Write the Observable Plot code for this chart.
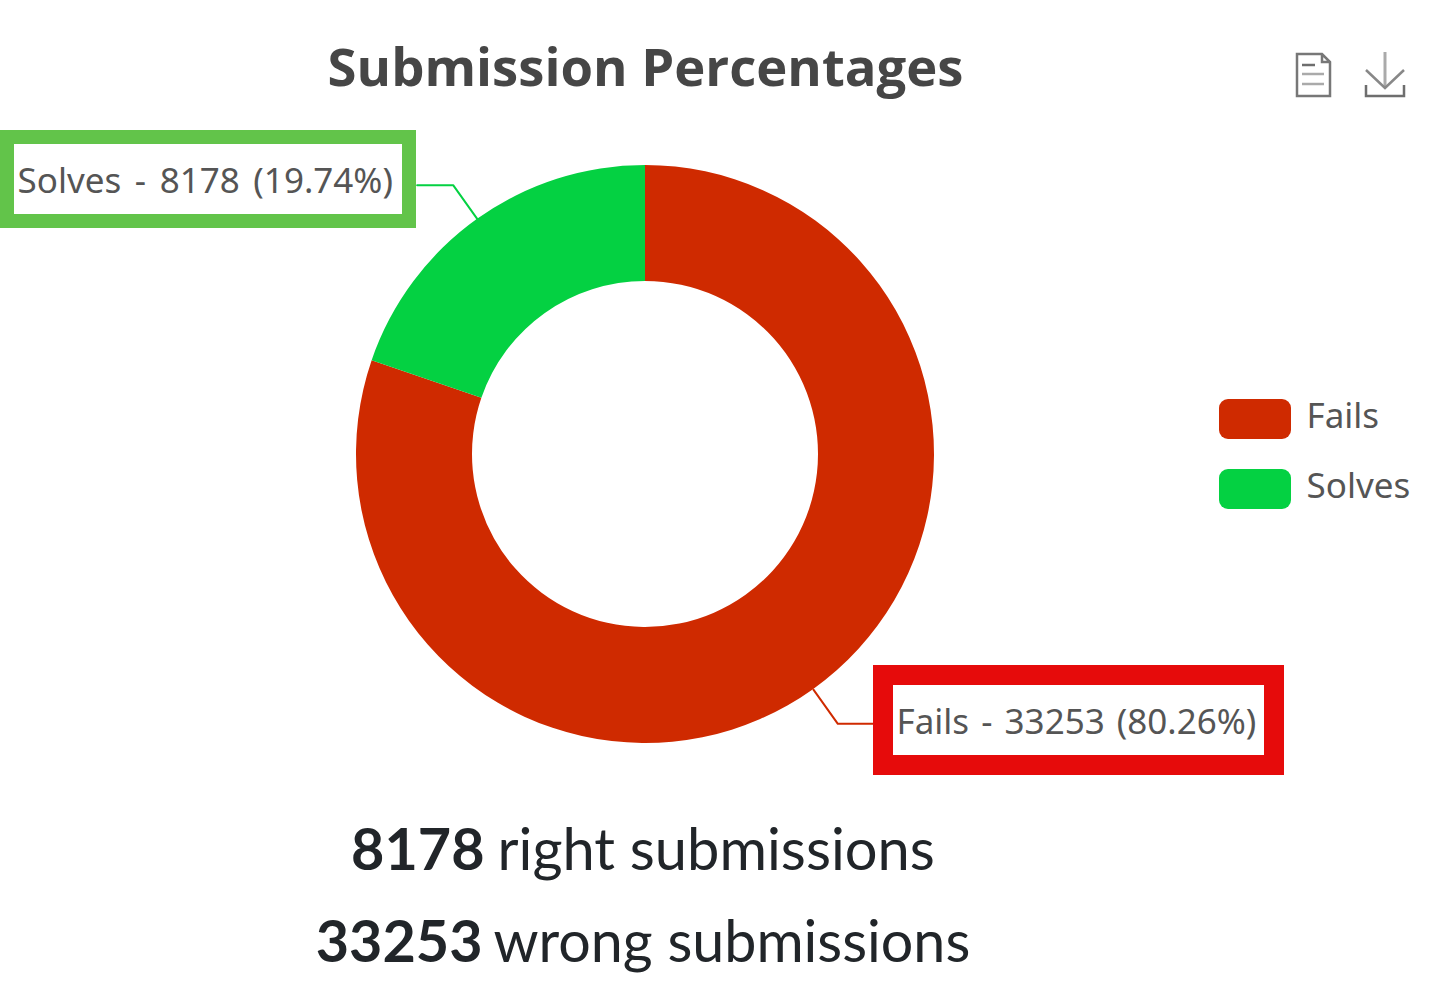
<!DOCTYPE html>
<html>
<head>
<meta charset="utf-8">
<script src="https://cdn.jsdelivr.net/npm/d3@7"></script>
<script src="https://cdn.jsdelivr.net/npm/@observablehq/plot@0.6"></script>
<style>
html,body{margin:0;padding:0;background:#fff}
svg{display:block}
</style>
</head>
<body>
<div id="chart"></div>
<script>
const categories = ["Fails", "Solves"];
const submissions = [33253, 8178];
const sliceColors = ["#cf2a00", "#04d142"];
const boxColors = ["#e60b0b", "#62c44a"];
const summaryWords = ["wrong submissions", "right submissions"];
const chartTitle = "Submission Percentages";

const total = d3.sum(submissions);
const cx = 645, cy = 454, rOuter = 289, rInner = 173, leaderLen = 42;
const W = 1440, H = 995;

const pie = d3.pie().sort(null)(submissions);
const arc = d3.arc().innerRadius(rInner).outerRadius(rOuter);

const rows = categories.map((name, i) => {
  const mid = (pie[i].startAngle + pie[i].endAngle) / 2;
  const px = r => cx + r * Math.sin(mid), py = r => cy - r * Math.cos(mid);
  const right = Math.sin(mid) > 0;
  const ex = px(rOuter + leaderLen), ey = py(rOuter + leaderLen);
  return {
    name, value: submissions[i], arcDatum: pie[i], right,
    pct: (submissions[i] / total * 100).toFixed(2),
    leader: [[px(rOuter), py(rOuter)], [ex, ey], [ex + (right ? 37 : -36), ey]]
  };
});

// label box layout, one entry per category
const boxes = [
  {x1: 873, x2: 1284, y1: 665, y2: 775, border: 20, tx: 896, ty: 722, size: 35, spacing: 3},
  {x1: 0, x2: 416, y1: 130, y2: 228, border: 14, tx: 17, ty: 181, size: 35, spacing: 4.5}
].map((b, i) => ({...b, ...rows[i], stroke: boxColors[i]}));

const legendRows = rows.map((r, i) => ({...r, y1: 399 + i * 70, y2: 439 + i * 70, ty: 416 + i * 70}));
const summaryRows = [
  {n: rows[1].value, word: summaryWords[1], split: 484, gap: 497, y: 851, size: 57.8},
  {n: rows[0].value, word: summaryWords[0], split: 482, gap: 493, y: 943, size: 57.4}
];

const donut = (index, {x, y, color}) => {
  const g = d3.create("svg:g").attr("transform", `translate(${x(cx)},${y(cy)})`);
  g.selectAll("path").data(rows).join("path")
    .attr("d", d => arc(d.arcDatum))
    .attr("fill", d => color(d.name));
  return g.node();
};

const icons = () => {
  const g = d3.create("svg:g").attr("fill", "none").attr("stroke", "#6e6e6e")
    .attr("stroke-width", 2.5).attr("stroke-linejoin", "miter");
  g.append("path").attr("stroke", "#777").attr("d", "M1297 54H1322L1330 62V96H1297Z M1322 54V62H1330");
  g.append("path").attr("stroke", "#aaa").attr("d", "M1302 74H1324 M1302 84H1324");
  g.append("path").attr("d", "M1302 65H1315");
  g.append("path").attr("stroke", "#aaa").attr("stroke-width", 3).attr("d", "M1385 52V88");
  g.append("path").attr("stroke", "#888").attr("d", "M1366 70L1385 88L1404 70");
  g.append("path").attr("d", "M1366 85V96H1404V85");
  return g.node();
};

const labelFont = "'Noto Sans', sans-serif";
const labelText = d => `${d.name} - ${d.value} (${d.pct}%)`;
const plot = Plot.plot({
  width: W, height: H, margin: 0,
  style: {background: "#fff", overflow: "visible"},
  x: {domain: [0, W], range: [0, W], axis: null},
  y: {domain: [0, H], range: [0, H], axis: null},
  color: {domain: categories, range: sliceColors},
  marks: [
    donut,
    ...rows.map(r => Plot.line(r.leader, {x: "0", y: "1", stroke: () => r.name, strokeWidth: 2, curve: "linear"})),
    Plot.rect(boxes, {
      x1: d => d.x1 + d.border / 2, x2: d => d.x2 - d.border / 2,
      y1: d => d.y1 + d.border / 2, y2: d => d.y2 - d.border / 2,
      fill: "#fff", stroke: d => d.stroke, strokeWidth: d => d.border
    }),
    Plot.text(boxes, {
      x: "tx", y: "ty", text: labelText,
      textAnchor: "start", fontSize: d => d.size, fontFamily: labelFont, fill: "#555"
    }),
    Plot.text([chartTitle], {
      x: () => cx, y: () => 69, text: d => d, fontSize: 52.6, fontWeight: "bold",
      fontFamily: "'Open Sans', sans-serif", fill: "#464646"
    }),
    icons,
    Plot.rect(legendRows, {x1: () => 1219, x2: () => 1291, y1: "y1", y2: "y2", fill: "name", rx: 9}),
    Plot.text(legendRows, {
      x: () => 1306, y: "ty", text: "name", textAnchor: "start", fontSize: 35,
      fontFamily: labelFont, fill: "#555"
    }),
    Plot.text(summaryRows, {
      x: "split", y: "y", text: d => String(d.n), textAnchor: "end", fontSize: 57.5,
      fontWeight: "bold", fontFamily: "Lato, sans-serif", fill: "#212529"
    }),
    Plot.text(summaryRows, {
      x: "gap", y: "y", text: "word", textAnchor: "start", fontSize: d => d.size,
      fontFamily: "Lato, sans-serif", fill: "#212529"
    })
  ]
});
boxes.forEach(b => {
  d3.select(plot).selectAll("text").filter(function () { return this.textContent === labelText(b); })
    .style("word-spacing", b.spacing + "px");
});
document.getElementById("chart").append(plot);
</script>
</body>
</html>
